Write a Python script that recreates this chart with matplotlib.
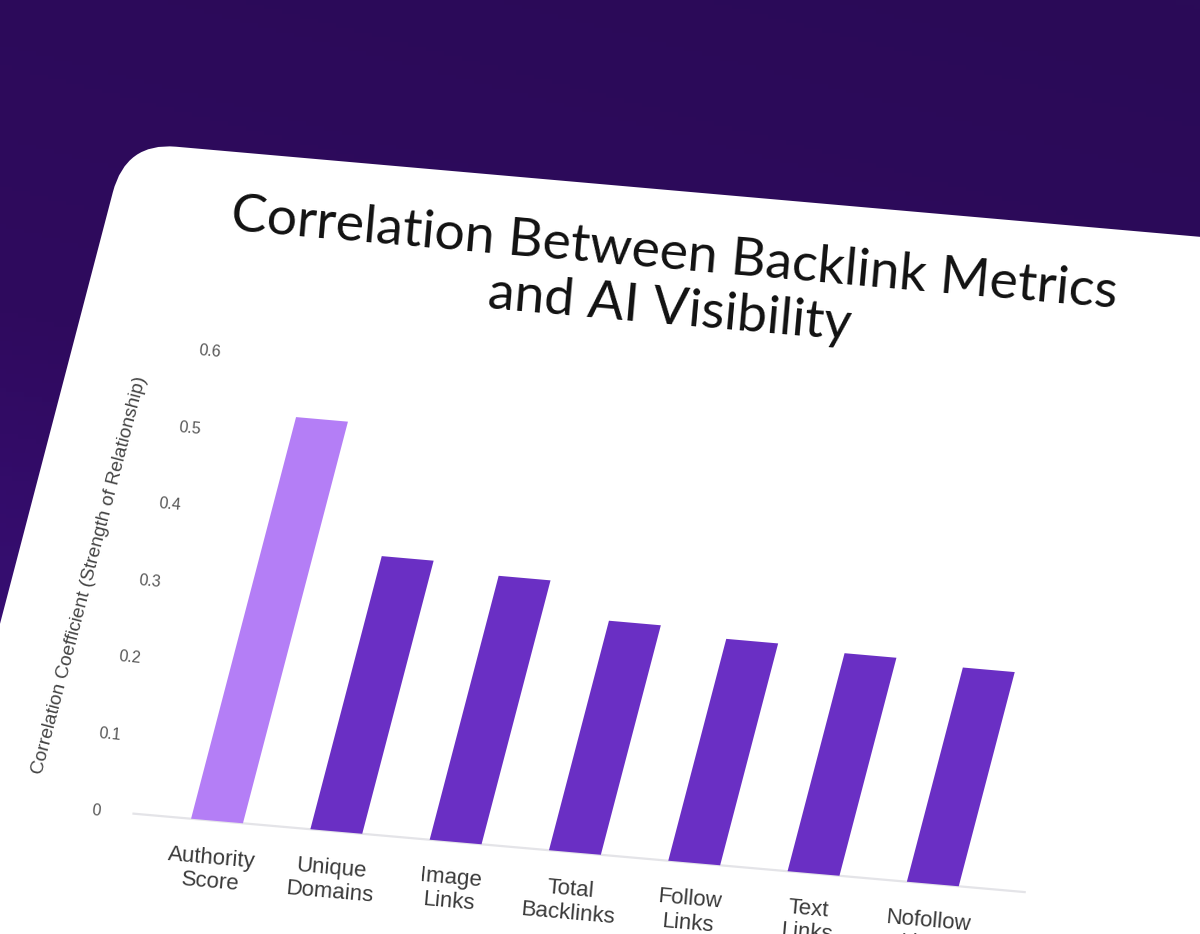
import numpy as np
import matplotlib
matplotlib.use("Agg")
import matplotlib.pyplot as plt
from matplotlib.transforms import Affine2D
from matplotlib.patches import FancyBboxPatch
from matplotlib.colors import LinearSegmentedColormap

# ---------------- data ----------------
categories = ["Authority\nScore", "Unique\nDomains", "Image\nLinks", "Total\nBacklinks",
              "Follow\nLinks", "Text\nLinks", "Nofollow\nLinks"]
values = [0.525, 0.357, 0.345, 0.30, 0.29, 0.285, 0.28]
bar_colors = ["#b47ef6", "#6a2fc4", "#6a2fc4", "#6a2fc4", "#6a2fc4", "#6a2fc4", "#6a2fc4"]
yticks = [0, 0.1, 0.2, 0.3, 0.4, 0.5, 0.6]
ytick_labels = ["0", "0.1", "0.2", "0.3", "0.4", "0.5", "0.6"]
title = "Correlation Between Backlink Metrics\nand AI Visibility"
ylabel = "Correlation Coefficient (Strength of Relationship)"

W, H = 1200, 934
fig = plt.figure(figsize=(W / 100, H / 100), dpi=100)

# background gradient
bg = fig.add_axes([0, 0, 1, 1], zorder=-1)
cmap = LinearSegmentedColormap.from_list("bg", ["#2a0b57", "#2f0a5e", "#3e1287"])
yy, xx = np.mgrid[0:1:200j, 0:1:200j]
grad = 0.75 * yy + 0.25 * (1 - xx)
bg.imshow(grad, cmap=cmap, aspect="auto", extent=[0, 1, 0, 1], origin="upper")
bg.axis("off")

# flat chart axes (later sheared to match the tilted card)
px_per_cat = 119.3
px_per_val = 765.0
ox, oy = 217.0, 113.0           # display position of data (0, 0)
xmin, xmax = -0.6, 6.6
left = ox + xmin * px_per_cat
width = (xmax - xmin) * px_per_cat
ax = fig.add_axes([left / W, oy / H, width / W, 0.6 * px_per_val / H], zorder=1)
ax.set_xlim(xmin, xmax)
ax.set_ylim(0, 0.6)
ax.axis("off")

k = 200.0 / 765.0     # lean of vertical direction
m = -10.5 / 119.3     # tilt of horizontal direction
shear = Affine2D(np.array([[1, k, 0], [m, 1, 0], [0, 0, 1]]))
T = Affine2D().translate(-ox, -oy) + shear + Affine2D().translate(ox, oy)
tr = ax.transData + T

# white card
card = FancyBboxPatch((-45.5, -900), 2600, 768.6 + 900,
                      boxstyle="round,pad=0,rounding_size=50",
                      facecolor="white", edgecolor="none", transform=T, zorder=0)
card.set_clip_on(False)
ax.add_artist(card)

# bars
x = np.arange(len(categories))
bars = ax.bar(x, values, width=0.435, color=bar_colors, zorder=3)
for b in bars:
    b.set_transform(tr)
    b.set_clip_on(False)

# baseline
ax.plot([-0.7, 6.77], [0, 0], color="#e4e4e8", lw=1.6, transform=tr,
        clip_on=False, zorder=2)

# y tick labels
for v, lab in zip(yticks, ytick_labels):
    ax.text(-0.97, v, lab, transform=tr, transform_rotates_text=True, rotation=0,
            ha="right", va="center", fontsize=11.5, color="#555555",
            family="Liberation Sans", clip_on=False, zorder=4)

# x tick labels
for xi, lab in zip(x, categories):
    ax.text(xi, -0.03, lab, transform=tr, transform_rotates_text=True, rotation=0,
            ha="center", va="top", multialignment="center", fontsize=16,
            color="#3a3a3a", family="Liberation Sans", linespacing=1.2,
            clip_on=False, zorder=4)

# y axis label
ax.text(-1.57, 0.30, ylabel, transform=tr, transform_rotates_text=True, rotation=90,
        ha="center", va="center", fontsize=13.8, color="#444444",
        family="Liberation Sans", clip_on=False, zorder=4)

# title
ax.text(2.57, 0.74, title, transform=tr, transform_rotates_text=True, rotation=0,
        ha="center", va="center", multialignment="center", fontsize=38.5,
        color="#111111", family="Lato", linespacing=1.2, clip_on=False, zorder=4)

fig.savefig("out.png", dpi=100)
